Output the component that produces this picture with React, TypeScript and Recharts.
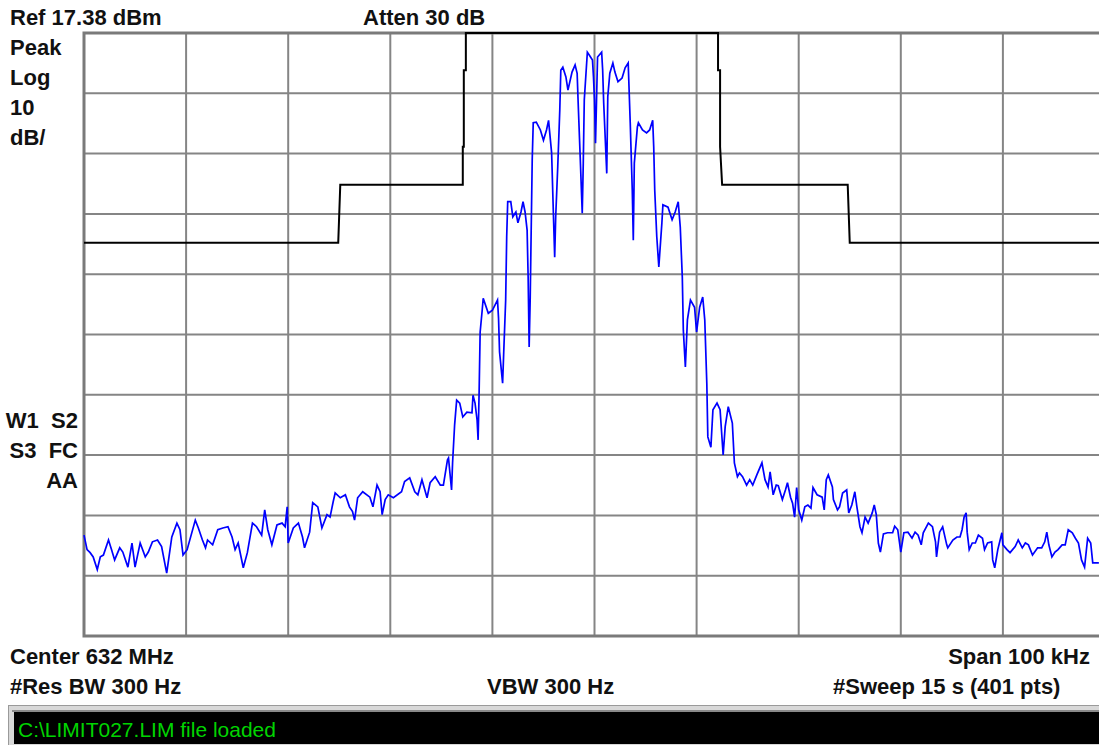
import { LineChart, Line, XAxis, YAxis, CartesianGrid, ReferenceArea } from "recharts";

// analyzer settings
const REF_DBM = 17.38;
const DB_PER_DIV = 10;
const SPAN_KHZ = 100;
const DIVS = 10;

// offset from center (kHz) / level (dBm) of the measured trace
const TRACE_KHZ = [
  -50.0, -49.7, -49.4, -49.1, -48.7, -48.4, -48.1, -47.6, -47.3, -47.0,
  -46.5, -46.2, -45.7, -45.3, -45.0, -44.5, -44.0, -43.7, -43.3, -42.8,
  -42.4, -41.9, -41.4, -40.9, -40.6, -40.3, -39.9, -39.1, -38.8, -38.4,
  -38.1, -37.9, -37.4, -36.9, -36.4, -35.9, -35.5, -35.2, -34.9, -34.4,
  -34.0, -33.5, -33.1, -32.6, -32.3, -32.0, -31.6, -31.1, -30.6, -30.3,
  -30.1, -30.0, -29.5, -29.0, -28.6, -28.4, -27.9, -27.6, -27.1, -26.7,
  -26.2, -25.9, -25.6, -25.4, -24.9, -24.4, -24.0, -23.7, -23.5, -23.2,
  -22.7, -22.0, -21.7, -21.3, -21.0, -20.8, -20.5, -20.2, -19.7, -18.9,
  -18.6, -18.1, -17.6, -17.3, -16.9, -16.4, -16.1, -15.6, -15.1, -14.8,
  -14.4, -14.3, -14.0, -13.9, -13.7, -13.5, -13.2, -12.9, -12.5, -12.0,
  -11.9, -11.7, -11.5, -11.4, -11.3, -11.2, -11.0, -10.9, -10.4, -10.0,
  -9.5, -9.4, -9.3, -9.0, -8.9, -8.7, -8.6, -8.5, -8.2, -8.0,
  -7.7, -7.5, -7.2, -7.0, -6.8, -6.6, -6.5, -6.4, -6.3, -6.1,
  -6.0, -5.7, -5.3, -5.0, -4.7, -4.5, -4.2, -4.0, -3.9, -3.8,
  -3.6, -3.4, -3.3, -3.1, -2.8, -2.6, -2.2, -1.9, -1.7, -1.6,
  -1.4, -1.2, -1.1, -1.0, -0.7, -0.5, -0.2, -0.1, 0.0, 0.1,
  0.2, 0.3, 0.7, 0.8, 0.9, 1.2, 1.3, 1.5, 1.8, 2.0,
  2.3, 2.7, 3.0, 3.3, 3.5, 3.7, 3.8, 3.9, 4.2, 4.3,
  4.7, 5.1, 5.4, 5.7, 5.8, 5.9, 6.1, 6.3, 6.6, 6.7,
  7.2, 7.6, 7.9, 8.2, 8.4, 8.6, 8.7, 8.9, 9.1, 9.4,
  9.8, 10.0, 10.3, 10.6, 10.8, 11.0, 11.1, 11.4, 11.6, 12.0,
  12.3, 12.6, 12.8, 13.1, 13.5, 13.7, 14.0, 14.2, 14.5, 14.9,
  15.2, 15.5, 15.9, 16.4, 16.7, 17.0, 17.2, 17.5, 17.8, 18.0,
  18.4, 18.7, 18.9, 19.2, 19.4, 19.6, 19.8, 20.0, 20.3, 20.6,
  20.9, 21.2, 21.4, 21.8, 22.3, 22.5, 22.7, 22.9, 23.3, 23.4,
  23.8, 24.0, 24.3, 24.7, 24.9, 25.2, 25.5, 25.7, 26.0, 26.2,
  26.5, 26.8, 27.2, 27.4, 27.6, 27.8, 28.0, 28.3, 28.7, 29.2,
  29.4, 29.7, 30.0, 30.3, 30.7, 31.1, 31.4, 31.7, 32.0, 32.2,
  32.7, 33.1, 33.4, 33.5, 33.8, 34.1, 34.5, 34.6, 35.1, 35.5,
  35.8, 36.0, 36.2, 36.4, 36.5, 36.7, 37.0, 37.3, 37.6, 38.0,
  38.2, 38.5, 38.9, 39.0, 39.2, 39.5, 39.9, 40.0, 40.4, 40.7,
  41.2, 41.5, 41.9, 42.2, 42.5, 42.9, 43.4, 43.8, 44.1, 44.3,
  44.5, 44.8, 45.1, 45.4, 45.8, 46.1, 46.4, 46.8, 47.1, 47.4,
  47.7, 48.0, 48.3, 48.6, 48.8, 49.4,
];

const TRACE_DBM = [
  -65.9, -68.3, -68.8, -69.5, -71.6, -69.5, -69.2, -66.7, -68.3, -70.0,
  -68.0, -68.7, -71.2, -67.2, -71.2, -67.2, -69.5, -68.7, -67.0, -66.7,
  -67.8, -72.2, -66.2, -63.9, -65.0, -69.2, -68.3, -63.4, -64.7, -66.7,
  -68.0, -66.7, -67.5, -65.0, -64.7, -64.5, -66.2, -68.3, -67.2, -71.3,
  -68.8, -63.9, -64.5, -65.9, -61.7, -65.0, -67.5, -64.2, -63.9, -64.5,
  -61.2, -67.2, -64.7, -63.9, -66.2, -68.0, -65.4, -60.5, -61.2, -64.7,
  -62.5, -62.9, -60.4, -58.9, -59.7, -59.2, -61.2, -62.0, -63.4, -59.7,
  -58.7, -59.6, -61.2, -57.6, -58.7, -62.5, -60.0, -59.2, -59.7, -58.7,
  -57.0, -56.4, -58.7, -59.2, -56.7, -59.7, -57.2, -56.2, -57.6, -57.6,
  -53.4, -53.1, -58.4, -53.9, -47.6, -43.5, -44.0, -46.3, -45.5, -45.6,
  -42.7, -44.0, -46.8, -50.1, -42.1, -32.2, -28.6, -26.6, -29.1, -28.6,
  -26.9, -29.9, -35.5, -40.7, -36.0, -26.9, -16.4, -10.6, -10.6, -13.1,
  -12.3, -14.1, -12.3, -10.6, -12.3, -15.3, -23.1, -34.7, -26.9, -3.7,
  2.5, 2.6, 1.3, -0.4, 1.3, 2.9, -2.5, -14.1, -19.8, -13.1,
  -4.8, 4.6, 11.2, 11.7, 10.1, 7.9, 10.9, 12.1, 10.7, 5.8,
  -3.2, -12.5, -4.2, 6.3, 14.2, 13.7, 12.9, 10.1, 6.3, -0.9,
  6.3, 13.4, 14.2, 11.2, 5.8, -5.9, 6.8, 10.7, 12.4, 10.9,
  9.3, 9.9, 11.6, 12.4, 2.5, -8.7, -17.0, -4.2, 1.8, 2.5,
  1.3, 0.8, 1.3, 2.9, -1.5, -8.7, -16.4, -21.4, -14.1, -11.1,
  -11.5, -13.6, -12.3, -10.6, -14.8, -23.1, -31.9, -38.0, -30.2, -26.9,
  -28.1, -32.2, -28.1, -26.4, -30.2, -40.7, -49.6, -51.3, -45.1, -44.0,
  -45.1, -52.6, -47.9, -44.6, -47.3, -53.9, -56.2, -55.6, -56.2, -57.6,
  -56.7, -57.6, -55.9, -53.9, -56.7, -57.9, -55.4, -59.2, -57.6, -57.7,
  -60.0, -58.4, -57.2, -59.6, -60.6, -62.9, -58.0, -61.7, -63.4, -61.2,
  -60.9, -61.4, -58.0, -59.2, -59.6, -61.7, -56.7, -55.9, -57.9, -60.0,
  -61.7, -61.2, -58.9, -58.4, -62.2, -60.9, -58.7, -61.2, -64.5, -65.5,
  -62.9, -63.9, -62.2, -60.9, -62.5, -67.2, -68.7, -65.7, -65.5, -65.5,
  -64.4, -65.0, -68.7, -65.5, -65.4, -66.4, -65.4, -65.9, -67.5, -65.5,
  -63.9, -64.5, -67.0, -69.5, -65.4, -64.5, -67.5, -68.0, -66.7, -66.2,
  -66.2, -65.0, -62.9, -62.2, -65.4, -68.3, -67.2, -67.2, -65.9, -66.4,
  -68.3, -67.2, -67.0, -70.0, -71.3, -68.3, -65.5, -67.5, -68.3, -68.8,
  -67.8, -66.7, -68.0, -67.2, -67.5, -69.2, -68.0, -68.0, -67.0, -65.4,
  -67.5, -69.5, -68.7, -68.3, -67.5, -67.5, -65.0, -65.5, -66.4, -67.2,
  -70.0, -71.2, -66.4, -67.2, -70.5, -70.5,
];

// limit line C:\LIMIT027.LIM
const LIMIT_KHZ = [-50, -25.1, -24.9, -12.9, -12.9, -12.8, -12.8, -12.6, -12.6, 12.1, 12.1, 12.3, 12.3, 12.5, 24.8, 25.0, 50];
const LIMIT_DBM = [-17.4, -17.4, -7.8, -7.8, -1.5, -1.5, 11.2, 11.2, 17.38, 17.38, 11.2, 11.2, -1.5, -7.8, -7.8, -17.4, -17.4];

const traceData = TRACE_KHZ.map((f, i) => ({ f, dbm: TRACE_DBM[i] }));
const limitData = LIMIT_KHZ.map((f, i) => ({ f, dbm: LIMIT_DBM[i] }));

const freqTicks = Array.from({ length: DIVS + 1 }, (_, i) => -SPAN_KHZ / 2 + (i * SPAN_KHZ) / DIVS);
const levelTicks = Array.from({ length: DIVS + 1 }, (_, i) => +(REF_DBM - i * DB_PER_DIV).toFixed(2));
const bottomDbm = levelTicks[DIVS];

const FONT = '"Liberation Sans", Arial, sans-serif';

const labels: { t: string; x: number; y: number; anchor?: "start" | "end" }[] = [
  { t: `Ref ${REF_DBM} dBm`, x: 10, y: 25 },
  { t: "Atten 30 dB", x: 363, y: 25 },
  { t: "Peak", x: 10, y: 55 },
  { t: "Log", x: 10, y: 85 },
  { t: `${DB_PER_DIV}`, x: 10, y: 115 },
  { t: "dB/", x: 10, y: 145 },
  { t: "W1  S2", x: 78, y: 428, anchor: "end" },
  { t: "S3  FC", x: 78, y: 458, anchor: "end" },
  { t: "AA", x: 78, y: 488, anchor: "end" },
  { t: "Center 632 MHz", x: 10, y: 664 },
  { t: `Span ${SPAN_KHZ} kHz`, x: 1090, y: 664, anchor: "end" },
  { t: "#Res BW 300 Hz", x: 10, y: 694 },
  { t: "VBW 300 Hz", x: 487, y: 694 },
  { t: "#Sweep 15 s (401 pts)", x: 833, y: 694 },
];

export default function App() {
  return (
    <div style={{ position: "fixed", left: 0, top: 0, width: 1099, height: 749, overflow: "hidden", background: "#fff" }}>
      <div style={{ position: "absolute", left: 0, top: 0 }}>
        <LineChart width={1120} height={749} margin={{ top: 33, right: 15, bottom: 113, left: 84 }}>
          <CartesianGrid stroke="#858585" strokeWidth={2} />
          <XAxis type="number" dataKey="f" domain={[-SPAN_KHZ / 2, SPAN_KHZ / 2]} ticks={freqTicks} hide />
          <YAxis type="number" domain={[bottomDbm, REF_DBM]} ticks={levelTicks} hide />
          <ReferenceArea x1={-SPAN_KHZ / 2} x2={SPAN_KHZ / 2} y1={bottomDbm} y2={REF_DBM}
            fill="none" fillOpacity={0} stroke="#7a7a7a" strokeWidth={3} ifOverflow="visible" />
          <Line data={limitData} dataKey="dbm" type="linear" stroke="#000" strokeWidth={2}
            dot={false} activeDot={false} isAnimationActive={false} />
          <Line data={traceData} dataKey="dbm" type="linear" stroke="#0000ff" strokeWidth={1.7}
            dot={false} activeDot={false} isAnimationActive={false} />
        </LineChart>
      </div>

      <svg width={1099} height={749} style={{ position: "absolute", left: 0, top: 0, pointerEvents: "none" }}>
        {labels.map((l) => (
          <text key={l.t} x={l.x} y={l.y} textAnchor={l.anchor || "start"} fontFamily={FONT}
            fontWeight="bold" fontSize={22} fill="#111" style={{ whiteSpace: "pre" }}>
            {l.t}
          </text>
        ))}
      </svg>

      {/* status line */}
      <div style={{ position: "absolute", left: 8, top: 705, width: 1091, height: 40, background: "#d8d8d8",
        borderTop: "1px solid #9a9a9a", borderLeft: "1px solid #9a9a9a", boxSizing: "border-box" }} />
      <div style={{ position: "absolute", left: 12, top: 710, width: 1087, height: 2, background: "#8a8a8a" }} />
      <div style={{ position: "absolute", left: 14, top: 712, width: 1085, height: 32, background: "#000" }} />
      <svg width={1099} height={749} style={{ position: "absolute", left: 0, top: 0, pointerEvents: "none" }}>
        <text x={18} y={737} fontFamily={FONT} fontSize={21} fill="#00d400">C:\LIMIT027.LIM file loaded</text>
      </svg>
    </div>
  );
}
